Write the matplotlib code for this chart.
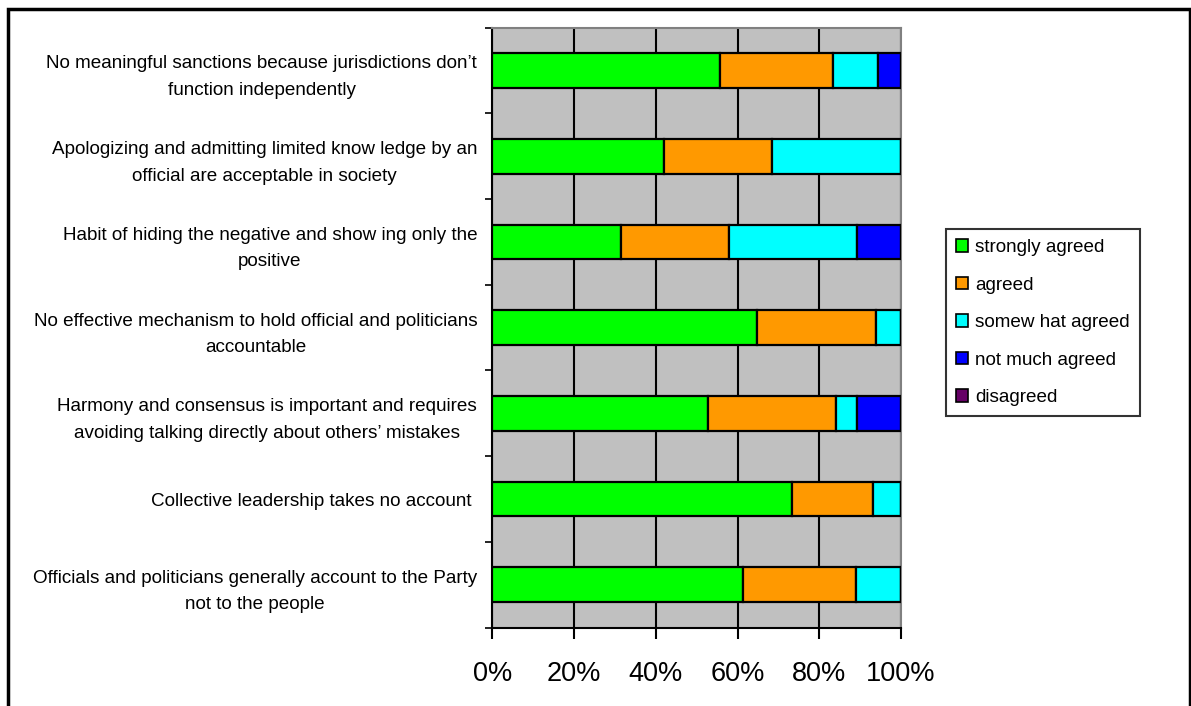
import matplotlib.pyplot as plt
import numpy as np
from matplotlib.patches import Rectangle

plt.rcParams['font.family'] = ['Liberation Sans', 'DejaVu Sans']

# statements, bottom to top as drawn
statements = [
    "Officials and politicians generally account to the Party\nnot to the people",
    "Collective leadership takes no account ",
    "Harmony and consensus is important and requires\navoiding talking directly about others\u2019 mistakes",
    "No effective mechanism to hold official and politicians\naccountable",
    "Habit of hiding the negative and show ing only the\npositive",
    "Apologizing and admitting limited know ledge by an\nofficial are acceptable in society",
    "No meaningful sanctions because jurisdictions don\u2019t\nfunction independently",
]

# percentages per answer, same order as statements
strongly_agreed = [61.3, 73.2, 52.8, 64.7, 31.4, 42.1, 55.7]
agreed          = [27.7, 20.0, 31.4, 29.3, 26.4, 26.4, 27.7]
somewhat_agreed = [11.0,  6.8,  5.1,  6.0, 31.5, 31.5, 11.0]
not_much_agreed = [ 0.0,  0.0, 10.7,  0.0, 10.7,  0.0,  5.6]
disagreed       = [ 0.0,  0.0,  0.0,  0.0,  0.0,  0.0,  0.0]

answers = ["strongly agreed", "agreed", "somew hat agreed", "not much agreed", "disagreed"]
colors = ["#00FF00", "#FF9900", "#00FFFF", "#0000FF", "#660066"]
series = [strongly_agreed, agreed, somewhat_agreed, not_much_agreed, disagreed]

fig = plt.figure(figsize=(11.91, 7.06), dpi=100)
ax = fig.add_axes([0.4135, 0.1109, 0.3430, 0.8501])
ax.set_facecolor("#C0C0C0")

y = np.arange(len(statements))
left = np.zeros(len(statements))
for vals, col, name in zip(series, colors, answers):
    vals = np.array(vals)
    ax.barh(y, vals, left=left, height=0.405, color=col, edgecolor="black",
            linewidth=1.6, label=name, zorder=3)
    left += vals

ax.set_xlim(0, 100)
ax.set_ylim(-0.5, len(statements) - 0.5)
ax.set_xticks(np.arange(0, 101, 20))
ax.set_xticklabels([f"{v}%" for v in range(0, 101, 20)], fontsize=19.5)
ax.xaxis.grid(True, color="black", linewidth=1.5, zorder=1)
ax.set_axisbelow(True)

# labels right-aligned next to the axis, each block centred on itself
ax.set_yticks(y)
ax.set_yticklabels(statements, fontsize=13.6, linespacing=1.72)
for lab in ax.get_yticklabels():
    lab.set_multialignment("center")
ax.tick_params(axis="y", which="major", length=0, pad=11)
ax.set_yticks(np.arange(-0.5, len(statements), 1), minor=True)
ax.tick_params(axis="y", which="minor", length=5, width=1.2, direction="out")
ax.tick_params(axis="x", length=8, width=1.5, direction="out", pad=16)

for side in ["top", "right"]:
    ax.spines[side].set_color("#808080")
    ax.spines[side].set_linewidth(1.5)
ax.spines["left"].set_linewidth(1.5)
ax.spines["bottom"].set_linewidth(1.5)

leg = fig.legend(loc="upper left", bbox_to_anchor=(945.7 / 1191, 1 - 229 / 706),
                 fontsize=13.6, frameon=True, fancybox=False, edgecolor="black",
                 handlelength=0.65, handleheight=0.65, handletextpad=0.35,
                 labelspacing=1.08, borderpad=0.55, borderaxespad=0)
leg.get_frame().set_linewidth(1.5)
for h in leg.legend_handles:
    h.set_linewidth(1.2)

# outer chart border
fig.patches.append(Rectangle((8 / 1191, -0.05), 1182 / 1191, 1.05 - 9 / 706,
                             transform=fig.transFigure, fill=False,
                             edgecolor="black", linewidth=2.5))

fig.savefig("out.png", dpi=100)
